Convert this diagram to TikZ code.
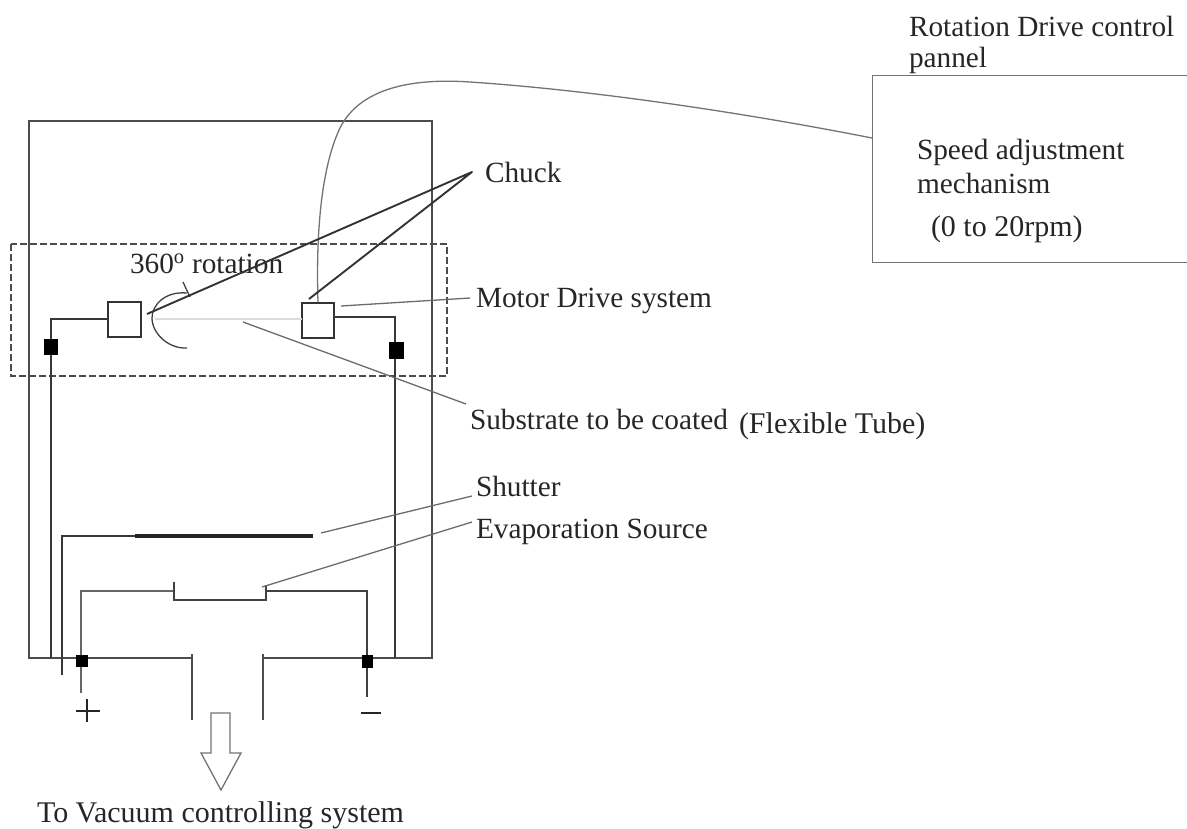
\documentclass[tikz,border=0pt]{standalone}
\usepackage{fontspec}
\setmainfont{Liberation Serif}
\tikzset{
  wire/.style={line width=2pt,draw=black!78},
  thinwire/.style={line width=1.5pt,draw=black!60},
  leader/.style={line width=1.3pt,draw=black!58},
  chuckline/.style={line width=1.9pt,draw=black!80,line join=round},
  box/.style={draw=black!80,line width=2pt,fill=white,minimum width=#1,minimum height=35pt,inner sep=0pt,outer sep=0pt},
  term/.style={fill=black,inner sep=0pt,outer sep=0pt,minimum width=#1,minimum height=#1},
  lab/.style={anchor=base west,inner sep=0pt,outer sep=0pt,font=\fontsize{29.3}{34}\selectfont,text=black!85},
  labwide/.style={lab,font=\fontsize{30}{34}\selectfont},
}
\begin{document}
\begin{tikzpicture}[x=1pt,y=-1pt]
\useasboundingbox (0,0) rectangle (1187,828);
% chamber
\coordinate (chA) at (191,658); \coordinate (chB) at (29,658); \coordinate (chC) at (29,121);
\coordinate (chD) at (432,121); \coordinate (chE) at (432,658); \coordinate (chF) at (263,658);
\draw[thinwire,draw=black!70] (chA) -- (chB) -- (chC) -- (chD) -- (chE) -- (chF);
% dashed region
\coordinate (da) at (11,244); \coordinate (db) at (447,376);
\draw[line width=1.6pt,draw=black!70,dash pattern=on 7pt off 3pt] (da) rectangle (db);
% pipe
\coordinate (pa) at (192,654); \coordinate (pb) at (192,720); \coordinate (pc) at (263,654); \coordinate (pd) at (263,720);
\draw[thinwire,draw=black!70] (pa) -- (pb) (pc) -- (pd);
% motors
\node[box=33pt] (lm) at (124.5,319.5) {};
\node[box=32pt] (rm) at (318,320) {};
\coordinate (lc) at (51,319); \coordinate (lb) at (51,658);
\coordinate (rc) at (395,317); \coordinate (rb) at (395,658);
\draw[wire] (lm.west |- lc) -- (lc) -- (lb);
\draw[wire] (rm.east |- rc) -- (rc) -- (rb);
\node[term=14pt,minimum height=16pt] (lt) at (51,347) {};
\node[term=15pt,minimum height=17pt] (rt) at (396,350) {};
% substrate
\coordinate (sa) at (155,319);
\draw[line width=1.2pt,draw=black!14] (sa) -- (rm.west |- sa);
% rotation arc
\coordinate (ra) at (187,293); \coordinate (rz) at (187,348); \coordinate (rt1) at (183,282); \coordinate (rt2) at (190,297);
\draw[line width=1.3pt,draw=black!75] (ra) .. controls (165,291) and (152,305) .. (152,318) .. controls (152,333) and (168,349) .. (rz);
\draw[line width=1.3pt,draw=black!75] (rt1) -- (rt2);
% shutter
\coordinate (sb) at (62,675); \coordinate (sc) at (62,536); \coordinate (sd) at (135,536); \coordinate (se) at (313,536);
\draw[wire] (sb) -- (sc) -- (sd);
\draw[line width=4pt,draw=black!85] (sd) -- (se);
% source
\coordinate (wa) at (81,693); \coordinate (wb) at (81,591); \coordinate (wc) at (174,591);
\coordinate (cra) at (174,582); \coordinate (crb) at (174,600); \coordinate (crc) at (266,600); \coordinate (crd) at (266,585);
\coordinate (we) at (266,591); \coordinate (wf) at (367,591); \coordinate (wg) at (367,697);
\draw[thinwire] (wa) -- (wb) -- (wc);
\draw[thinwire,draw=black!75] (cra) -- (crb) -- (crc) -- (crd);
\draw[thinwire,draw=black!75] (we) -- (wf) -- (wg);
\node[term=12pt] (tp) at (82,661) {};
\node[term=11pt,minimum height=13pt] (tm) at (367,661) {};
% signs
\coordinate (pl1) at (76,711); \coordinate (pl2) at (100,711); \coordinate (pl3) at (87,699); \coordinate (pl4) at (87,722);
\draw[line width=1.6pt,draw=black!85] (pl1) -- (pl2) (pl3) -- (pl4);
\coordinate (mi1) at (361,713); \coordinate (mi2) at (381,713);
\draw[line width=1.8pt,draw=black!85] (mi1) -- (mi2);
% vacuum arrow
\coordinate (a1) at (211,713); \coordinate (a2) at (230,713); \coordinate (a3) at (230,753); \coordinate (a4) at (241,753);
\coordinate (a5) at (221,790); \coordinate (a6) at (201,753); \coordinate (a7) at (211,753);
\draw[line width=1.3pt,draw=black!55] (a1) -- (a2) -- (a3) -- (a4) -- (a5) -- (a6) -- (a7) -- cycle;
% panel
\coordinate (pna) at (872,75); \coordinate (pnb) at (872,262); \coordinate (pnc) at (1187,262); \coordinate (pnd) at (1187,75);
\draw[line width=1pt,draw=black!55] (pnd) -- (pna) -- (pnb) -- (pnc) -- cycle;
% cable
\coordinate (cb1) at (318,302);
\coordinate (cb2) at (872,138);
\draw[line width=1.3pt,draw=black!55] (cb1) .. controls (316,240) and (320,170) .. (340,128) .. controls (360,88) and (412,78) .. (470,82) .. controls (590,90) and (740,112) .. (cb2);
% labels
\node[lab] (tchuck) at (485,182) {Chuck};
\node[lab] (tmotor) at (476,307) {Motor Drive system};
\node[lab] (tsub) at (470,429) {Substrate to be coated};
\node[labwide] (tflex) at (739,433) {(Flexible Tube)};
\node[lab] (tshut) at (476,496) {Shutter};
\node[lab] (tevap) at (476,538) {Evaporation Source};
\node[lab] (trot) at (130,273) {360\textsuperscript{o} rotation};
\node[labwide] (tvac) at (37,822) {To Vacuum controlling system};
\node[lab] (tp1) at (909,36) {Rotation Drive control};
\node[lab] (tp2) at (909,67) {pannel};
\node[lab] (ts1) at (917,159) {Speed adjustment};
\node[lab] (ts2) at (917,193) {mechanism};
\node[labwide] (ts3) at (931,236) {(0 to 20rpm)};
% leaders
\coordinate (chk) at (472,172);
\coordinate (chl) at (147,314); \coordinate (chr) at (309,299);
\draw[chuckline] (chl) -- (chk) -- (chr);
\coordinate (mo1) at (341,306); \coordinate (mo2) at (470,298);
\draw[leader] (mo1) -- (mo2);
\coordinate (su1) at (243,322); \coordinate (su2) at (466,404);
\draw[leader] (su1) -- (su2);
\coordinate (sh1) at (321,533); \coordinate (sh2) at (472,496);
\draw[leader] (sh1) -- (sh2);
\coordinate (ev1) at (262,587); \coordinate (ev2) at (472,522);
\draw[leader] (ev1) -- (ev2);
\end{tikzpicture}
\end{document}
